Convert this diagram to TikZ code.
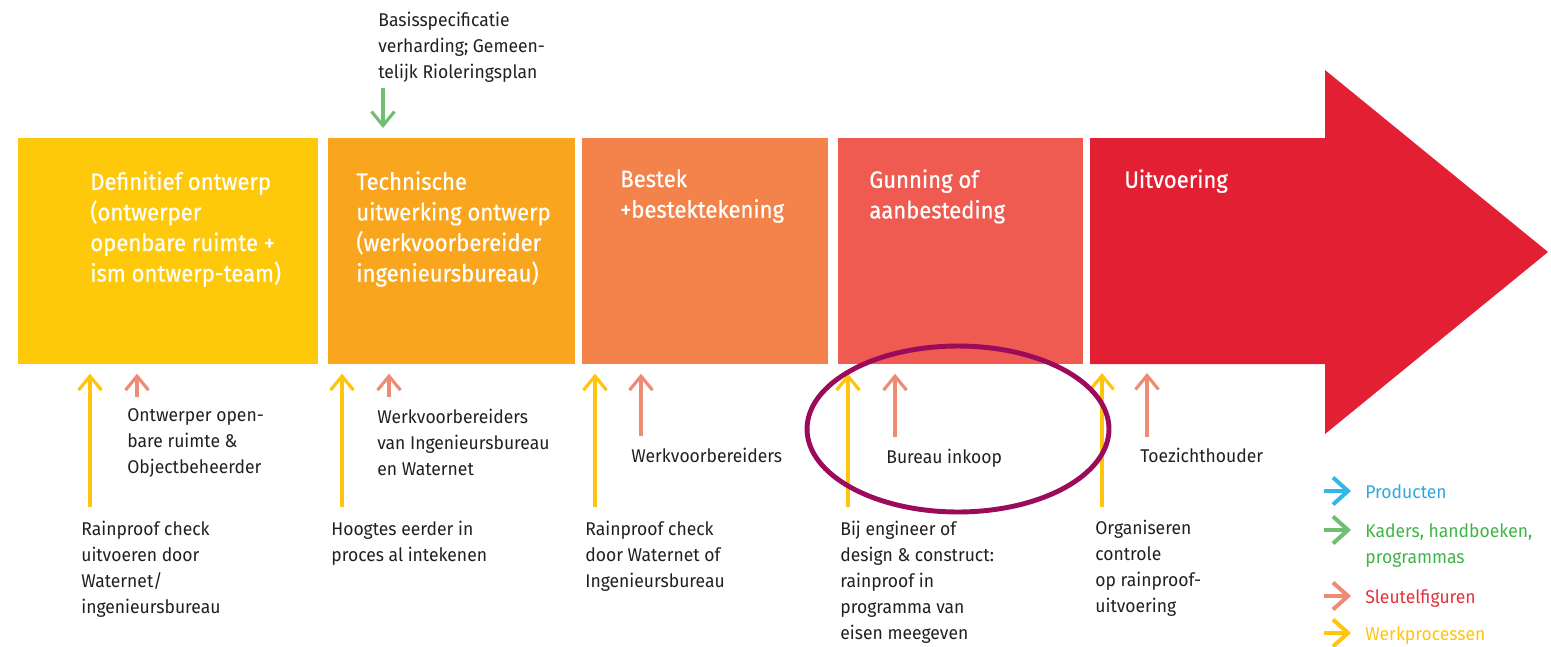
\documentclass[tikz,border=0pt]{standalone}
\usepackage{fontspec}
\setmainfont{Fira Sans}
\newfontfamily\smallfont[FakeStretch=0.95]{Fira Sans}
\newfontfamily\titlefont[FakeStretch=0.93,FakeBold=0.6]{Fira Sans}
\usepackage{tikz}
\usetikzlibrary{arrows.meta,positioning}

\definecolor{geel}{HTML}{FEC80B}
\definecolor{oranje}{HTML}{F9A51E}
\definecolor{oranjerood}{HTML}{F3834A}
\definecolor{lichtrood}{HTML}{EF5B50}
\definecolor{rood}{HTML}{E21F33}
\definecolor{geelpijl}{HTML}{FFC40E}
\definecolor{zalm}{HTML}{EE8B74}
\definecolor{groen}{HTML}{6FBF73}
\definecolor{blauw}{HTML}{35B6E6}
\definecolor{paars}{HTML}{9C0B5B}
\definecolor{donker}{HTML}{231F20}
\definecolor{groentekst}{HTML}{3FB549}
\definecolor{roodtekst}{HTML}{E5333C}
\definecolor{blauwtekst}{HTML}{2FA8E0}

\begin{document}
\begin{tikzpicture}[x=0.02cm, y=-0.02cm,
  fase/.style={minimum height=4.52cm, inner sep=0, anchor=north west},
  titel/.style={text=white, font=\titlefont\fontsize{13.5}{17.4}\selectfont, align=left, inner sep=0},
  tekst/.style={text=donker, font=\smallfont\fontsize{10.5}{14.8}\selectfont, align=left, inner sep=0, anchor=north west},
  pijl/.style={line width=1.8pt, -{Straight Barb[length=0.28cm,width=0.46cm]}},
  werk/.style={pijl, draw=geelpijl, shorten >=0.18cm},
  sleutel/.style={pijl, draw=zalm, shorten >=0.18cm},
  kader/.style={pijl, draw=groen, shorten >=0.2cm},
  legpijl/.style={line width=2.3pt, -{Straight Barb[length=0.3cm,width=0.54cm]}, shorten >=0.28cm}
]
\useasboundingbox (0,0) rectangle (1551,646);

% fasen
\node[fase, fill=geel, minimum width=6cm] (b1) at (18,138) {};
\node[fase, fill=oranje, minimum width=4.94cm] (b2) at (328,138) {};
\node[fase, fill=oranjerood, minimum width=4.92cm] (b3) at (582,138) {};
\node[fase, fill=lichtrood, minimum width=4.9cm] (b4) at (838,138) {};
\fill[rood] (1090,138) -- (1325,138) -- (1325,70) -- (1548,252)
  -- (1325,434) -- (1325,364) -- (1090,364) -- cycle;
\coordinate (b5) at (1090,138);
\coordinate (b5s) at (1090,364);

\node[titel, below right=0.66cm and 1.44cm of b1.north west] (t1)
  {Definitief ontwerp\\(ontwerper\\openbare ruimte +\\ism ontwerp-team)};
\node[titel, below right=0.66cm and 0.56cm of b2.north west] (t2)
  {Technische\\uitwerking ontwerp\\(werkvoorbereider\\ingenieursbureau)};
\node[titel, below right=0.62cm and 0.76cm of b3.north west] (t3)
  {Bestek\\+bestektekening};
\node[titel, below right=0.62cm and 0.62cm of b4.north west] (t4)
  {Gunning of\\aanbesteding};
\node[titel, below right=0.62cm and 0.68cm of b5] (t5) {Uitvoering};

% kaders boven
\node[tekst] (basis) at (378,12)
  {Basisspecificatie\\verharding; Gemeen-\\telijk Rioleringsplan};
\coordinate (g) at (383,88);
\draw[kader] (g) -- (g |- b2.north);

% sleutelfiguren
\node[tekst, below right=0.88cm and 2.18cm of b1.south west] (s1)
  {Ontwerper open-\\bare ruimte \&\\Objectbeheerder};
\node[tekst, below right=0.88cm and 0.98cm of b2.south west] (s2)
  {Werkvoorbereiders\\van Ingenieursbureau\\en Waternet};
\node[tekst, below right=1.66cm and 0.98cm of b3.south west] (s3) {Werkvoorbereiders};
\node[tekst, below right=1.68cm and 0.96cm of b4.south west] (s4) {Bureau inkoop};
\node[tekst, below right=1.68cm and 1.0cm of b5s] (s5) {Toezichthouder};

\coordinate (z1) at (137,397);
\coordinate (z2) at (389,397);
\coordinate (z3) at (641,436);
\coordinate (z4) at (895,437);
\coordinate (z5) at (1147,437);
\draw[sleutel] (z1) -- (z1 |- b1.south);
\draw[sleutel] (z2) -- (z2 |- b2.south);
\draw[sleutel] (z3) -- (z3 |- b3.south);
\draw[sleutel] (z4) -- (z4 |- b4.south);
\draw[sleutel] (z5) -- (z5 |- b5s);

% werkprocessen
\node[tekst, below right=3.12cm and 1.26cm of b1.south west] (w1)
  {Rainproof check\\uitvoeren door\\Waternet/\\ingenieursbureau};
\node[tekst, below right=3.12cm and 0.06cm of b2.south west] (w2)
  {Hoogtes eerder in\\proces al intekenen};
\node[tekst, below right=3.12cm and 0.06cm of b3.south west] (w3)
  {Rainproof check\\door Waternet of\\Ingenieursbureau};
\node[tekst, below right=3.12cm and 0.04cm of b4.south west] (w4)
  {Bij engineer of\\design \& construct:\\rainproof in\\programma van\\eisen meegeven};
\node[tekst, below right=3.12cm and 0.1cm of b5s] (w5)
  {Organiseren\\controle\\op rainproof-\\uitvoering};

\coordinate (y1) at (90,507);
\coordinate (y2) at (342,507);
\coordinate (y3) at (595,507);
\coordinate (y4) at (848,507);
\coordinate (y5) at (1102,507);
\draw[werk] (y1) -- (y1 |- b1.south);
\draw[werk] (y2) -- (y2 |- b2.south);
\draw[werk] (y3) -- (y3 |- b3.south);
\draw[werk] (y4) -- (y4 |- b4.south);
\draw[werk] (y5) -- (y5 |- b5s);

% legenda
\node[tekst, text=blauwtekst] (lp) at (1365,484) {Producten};
\node[tekst, text=groentekst] (lk) at (1365,523) {Kaders, handboeken,\\programmas};
\node[tekst, text=roodtekst] (ls) at (1365,589) {Sleutelfiguren};
\node[tekst, text=geelpijl] (lw) at (1365,626) {Werkprocessen};
\coordinate (lp0) at (1324,491);
\coordinate (lk0) at (1324,530);
\coordinate (ls0) at (1324,596);
\coordinate (lw0) at (1324,633);
\draw[legpijl, draw=blauw] (lp0) -- (lp0 -| lp.west);
\draw[legpijl, draw=groen] (lk0) -- (lk0 -| lk.west);
\draw[legpijl, draw=zalm] (ls0) -- (ls0 -| ls.west);
\draw[legpijl, draw=geelpijl] (lw0) -- (lw0 -| lw.west);

% markering
\draw[paars, line width=2.8pt] (958,429) ellipse [x radius=3.02cm, y radius=1.66cm];
\end{tikzpicture}
\end{document}
